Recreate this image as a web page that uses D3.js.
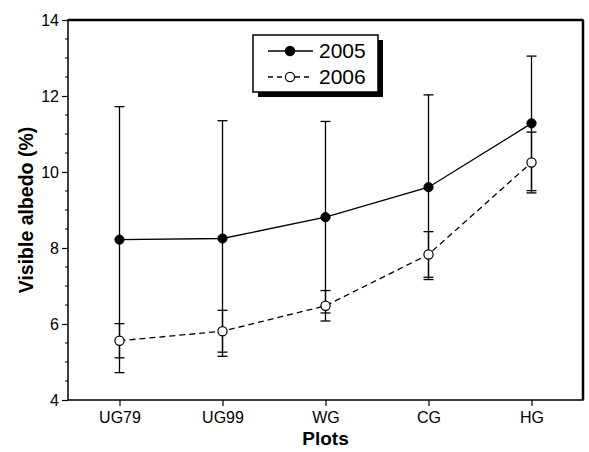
<!DOCTYPE html>
<html>
<head>
<meta charset="utf-8">
<script src="https://cdn.jsdelivr.net/npm/d3@7"></script>
<style>
  body { margin: 0; background: #fff; }
  text { font-family: "Liberation Sans", Arial, sans-serif; }
</style>
</head>
<body>
<div id="chart"></div>
<script>
// chart data
const plots = ["UG79", "UG99", "WG", "CG", "HG"];
const albedo2005 = [8.22, 8.25, 8.81, 9.6, 11.28];
const err2005 = [3.5, 3.1, 2.52, 2.43, 1.77];
const albedo2006 = [5.56, 5.81, 6.48, 7.83, 10.25];
const err2006 = [0.45, 0.55, 0.4, 0.6, 0.8];
const yTicks = [4, 6, 8, 10, 12, 14];

const width = 589, height = 452;
const margin = { top: 20, right: 6, bottom: 52, left: 68 };
const innerW = width - margin.left - margin.right;
const innerH = height - margin.top - margin.bottom;

const svg = d3.select("#chart").append("svg")
  .attr("width", width)
  .attr("height", height);

const g = svg.append("g")
  .attr("transform", `translate(${margin.left},${margin.top})`);

const x = d3.scalePoint().domain(plots).range([0, innerW]).padding(0.5);
const y = d3.scaleLinear().domain([4, 14]).range([innerH, 0]);

// frame
g.append("rect")
  .attr("width", innerW).attr("height", innerH)
  .attr("fill", "none").attr("stroke", "#000").attr("stroke-width", 1.5);
g.append("line").attr("x1", 0).attr("x2", innerW).attr("y1", 0).attr("y2", 0)
  .attr("stroke", "#000").attr("stroke-width", 2.5);
g.append("line").attr("x1", innerW).attr("x2", innerW).attr("y1", 0).attr("y2", innerH)
  .attr("stroke", "#000").attr("stroke-width", 2.5);

// y axis
const yAxis = g.append("g")
  .call(d3.axisLeft(y).tickValues(yTicks).tickSize(6).tickPadding(3).tickFormat(d3.format("d")));
yAxis.select(".domain").remove();
yAxis.selectAll("text").attr("font-size", 16).attr("fill", "#000")
  .attr("font-family", "Liberation Sans, Arial, sans-serif");
yAxis.selectAll("line").attr("stroke-width", 1.2);
// minor ticks
const minor = d3.range(4.5, 14, 0.5).filter(v => v % 2 !== 0);
g.selectAll(".minor").data(minor).enter().append("line")
  .attr("x1", -3).attr("x2", 0)
  .attr("y1", d => y(d)).attr("y2", d => y(d))
  .attr("stroke", "#000").attr("stroke-width", 1);

// x axis
const xAxis = g.append("g")
  .attr("transform", `translate(0,${innerH})`)
  .call(d3.axisBottom(x).tickSize(6).tickPadding(6));
xAxis.select(".domain").remove();
xAxis.selectAll("text").attr("font-size", 16).attr("fill", "#000")
  .attr("font-family", "Liberation Sans, Arial, sans-serif");
xAxis.selectAll("line").attr("stroke-width", 1.2);

// axis labels
svg.append("text")
  .attr("x", margin.left + innerW / 2).attr("y", 445)
  .attr("text-anchor", "middle")
  .attr("font-size", 19).attr("font-weight", "bold")
  .text("Plots");
svg.append("text")
  .attr("transform", `translate(33,${margin.top + innerH / 2}) rotate(-90)`)
  .attr("text-anchor", "middle")
  .attr("font-size", 19.5).attr("font-weight", "bold")
  .text("Visible albedo (%)");

function drawErrors(vals, errs) {
  const d = plots.map((p, i) => ({ p, v: vals[i], e: errs[i] }));
  const eg = g.append("g").attr("stroke", "#000").attr("stroke-width", 1.3);
  eg.selectAll(".ev").data(d).enter().append("line")
    .attr("x1", d => x(d.p)).attr("x2", d => x(d.p))
    .attr("y1", d => y(d.v - d.e)).attr("y2", d => y(d.v + d.e));
  [-1, 1].forEach(s => {
    eg.selectAll(".cap" + s).data(d).enter().append("line")
      .attr("x1", d => x(d.p) - 5).attr("x2", d => x(d.p) + 5)
      .attr("y1", d => y(d.v + s * d.e)).attr("y2", d => y(d.v + s * d.e));
  });
}

drawErrors(albedo2005, err2005);
drawErrors(albedo2006, err2006);

const line = d3.line().x(d => x(d.p)).y(d => y(d.v));
const s2005 = plots.map((p, i) => ({ p, v: albedo2005[i] }));
const s2006 = plots.map((p, i) => ({ p, v: albedo2006[i] }));

g.append("path").datum(s2005).attr("d", line)
  .attr("fill", "none").attr("stroke", "#000").attr("stroke-width", 1.3);
g.append("path").datum(s2006).attr("d", line)
  .attr("fill", "none").attr("stroke", "#000").attr("stroke-width", 1.3)
  .attr("stroke-dasharray", "6,4");

g.selectAll(".m2005").data(s2005).enter().append("circle")
  .attr("cx", d => x(d.p)).attr("cy", d => y(d.v)).attr("r", 4.6)
  .attr("fill", "#000").attr("stroke", "#000");
g.selectAll(".m2006").data(s2006).enter().append("circle")
  .attr("cx", d => x(d.p)).attr("cy", d => y(d.v)).attr("r", 4.6)
  .attr("fill", "#fff").attr("stroke", "#000").attr("stroke-width", 1.2);

// legend
const lg = svg.append("g").attr("transform", "translate(253,35)");
lg.append("rect").attr("x", 5).attr("y", 5).attr("width", 125).attr("height", 57).attr("fill", "#000");
lg.append("rect").attr("width", 125).attr("height", 57)
  .attr("fill", "#fff").attr("stroke", "#000").attr("stroke-width", 1.5);
const items = [
  { label: "2005", fill: "#000", dash: null, yy: 16 },
  { label: "2006", fill: "#fff", dash: "5,4", yy: 42 }
];
items.forEach(it => {
  lg.append("line").attr("x1", 15).attr("x2", 60).attr("y1", it.yy).attr("y2", it.yy)
    .attr("stroke", "#000").attr("stroke-width", 1.3)
    .attr("stroke-dasharray", it.dash);
  lg.append("circle").attr("cx", 37).attr("cy", it.yy).attr("r", 4.6)
    .attr("fill", it.fill).attr("stroke", "#000").attr("stroke-width", 1.2);
  lg.append("text").attr("x", 66).attr("y", it.yy + 7)
    .attr("font-size", 21).text(it.label);
});
</script>
</body>
</html>
